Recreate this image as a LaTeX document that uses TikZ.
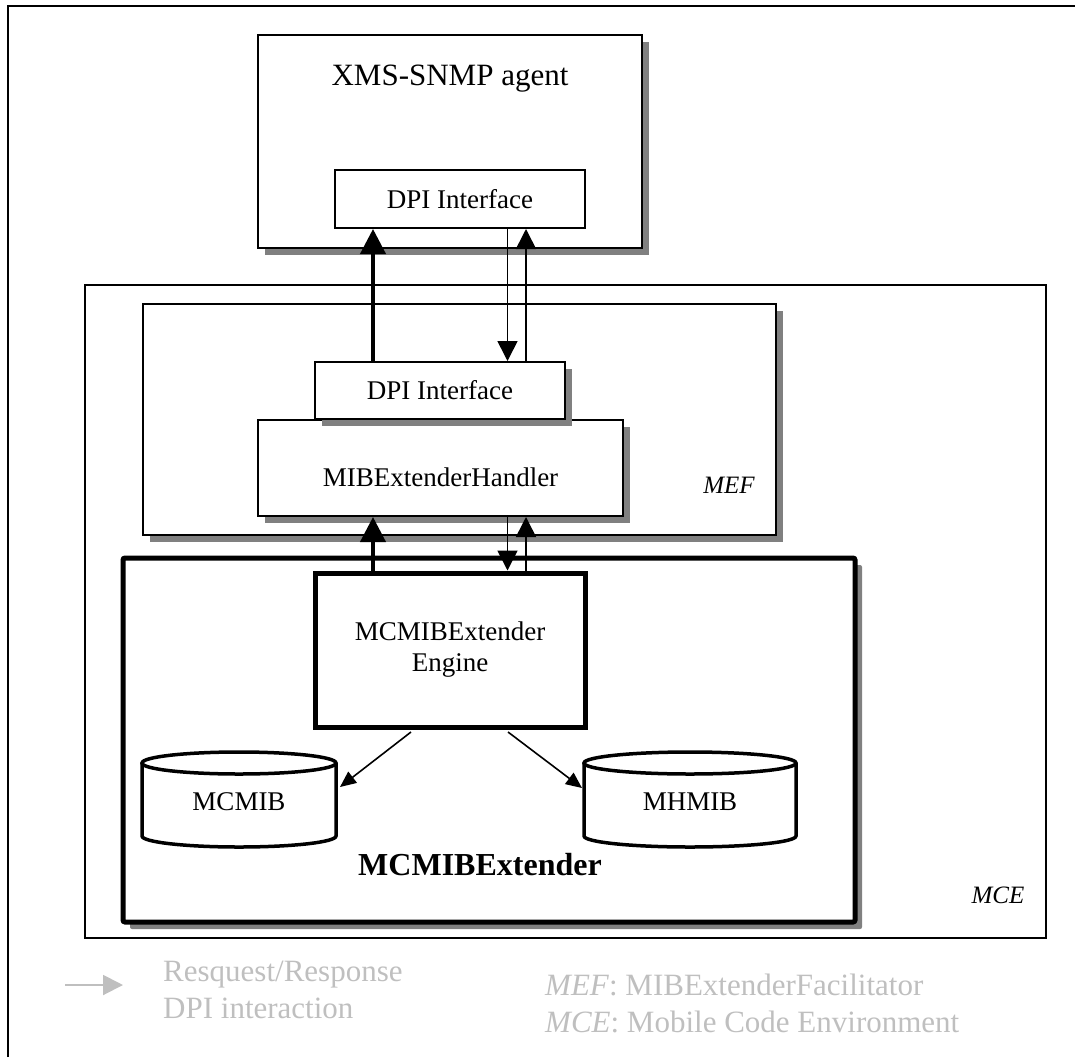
\documentclass[tikz,border=0pt]{standalone}
\usepackage{fontspec}
\setmainfont{Liberation Serif}
\usetikzlibrary{arrows.meta,shadows}
\definecolor{shgray}{HTML}{808080}
\definecolor{legendgray}{HTML}{BFBFBF}
\begin{document}
\begin{tikzpicture}[x=1pt,y=-1pt,
  box/.style={draw, line width=2pt, fill=white, inner sep=0pt},
  heavybox/.style={draw, line width=5pt, fill=white, inner sep=0pt},
  shade/.style={drop shadow={shadow xshift=7pt, shadow yshift=-7pt, fill=shgray, opacity=1}},
  txt/.style={inner sep=0pt, anchor=base, font=\fontsize{27}{31}\selectfont},
  bigtxt/.style={inner sep=0pt, anchor=base, font=\fontsize{31}{36}\selectfont},
  tag/.style={inner sep=0pt, anchor=base, font=\fontsize{25}{30}\selectfont\itshape},
  legend/.style={inner sep=0pt, anchor=base west, text=legendgray, font=\fontsize{31}{36}\selectfont},
  cyl/.style={draw, line width=3.5pt},
  thinflow/.style={draw, line width=1.6pt, -{Triangle[length=20pt,width=20pt]}},
  thickflow/.style={draw, line width=4pt, -{Triangle[length=25pt,width=25pt]}},
  dbflow/.style={draw, line width=1.6pt, -{Triangle[length=16pt,width=14pt]}}
]
\useasboundingbox (0,0) rectangle (1075,1057);

% outer frame (top and left edges)
\draw[line width=2pt] (8,1057) -- (8,6) -- (1075,6);

% SNMP agent
\node[box, shade, minimum width=384pt, minimum height=213pt] (xms) at (450,141.5) {};
\node[bigtxt] (tXms) at (450,85) {XMS-SNMP agent};
\node[box, minimum width=250pt, minimum height=58pt, font=\fontsize{27}{31}\selectfont] (dpiTop) at (460,199) {DPI Interface};

% mobile code environment
\node[box, minimum width=961pt, minimum height=653pt] (mce) at (565.5,611.5) {};
\node[tag] (tMce) at (998,903) {MCE};

% MIBExtender facilitator
\node[box, shade, minimum width=633pt, minimum height=231pt] (mef) at (459.5,419.5) {};
\node[tag] (tMef) at (729,493) {MEF};
\node[box, shade, minimum width=365pt, minimum height=96pt] (handler) at (440.5,468) {};
\node[txt] (tHandler) at (440.5,486) {MIBExtenderHandler};
\node[box, shade, minimum width=250pt, minimum height=57pt, font=\fontsize{27}{31}\selectfont] (dpiMef) at (440,390.5) {DPI Interface};

% MCMIBExtender
\node[heavybox, shade, rounded corners=2pt, minimum width=732pt, minimum height=364pt] (ext) at (489,740) {};
\node[bigtxt, font=\fontsize{32}{37}\selectfont\bfseries] (tExt) at (480,875) {MCMIBExtender};
\node[heavybox, minimum width=270pt, minimum height=154pt] (engine) at (450,650) {};
\node[txt] (tEngineA) at (450,640) {MCMIBExtender};
\node[txt] (tEngineB) at (450,671) {Engine};

% databases
\draw[cyl] (142,763) -- (142,836) arc[start angle=180,end angle=360,x radius=97pt,y radius=11pt] -- (336,763);
\draw[cyl] (239,763) ellipse [x radius=97pt, y radius=11pt];
\node[txt] (tMcmib) at (239,810) {MCMIB};
\draw[cyl] (584,763) -- (584,836) arc[start angle=180,end angle=360,x radius=106pt,y radius=11pt] -- (796,763);
\draw[cyl] (690,763) ellipse [x radius=106pt, y radius=11pt];
\node[txt] (tMhmib) at (690,810) {MHMIB};

% arrow columns
\coordinate (colA) at (373,0);
\coordinate (colB) at (507.5,0);
\coordinate (colC) at (526,0);

% DPI interaction between agent and facilitator
\draw[thickflow] (colA |- dpiMef.north) -- (colA |- dpiTop.south);
\draw[thinflow] (colB |- dpiTop.south) -- (colB |- dpiMef.north);
\draw[thinflow] (colC |- dpiMef.north) -- (colC |- dpiTop.south);

% interaction between handler and engine
\draw[thickflow] (colA |- engine.north) -- (colA |- handler.south);
\draw[thinflow] (colB |- handler.south) -- (colB |- engine.north);
\draw[thinflow] (colC |- engine.north) -- (colC |- handler.south);

% engine to databases
\coordinate (mcmibIn) at (340,787);
\coordinate (mhmibIn) at (582,788);
\draw[dbflow] ([xshift=-39pt,yshift=-2.5pt]engine.south) -- (mcmibIn);
\draw[dbflow] ([xshift=58pt,yshift=-2.5pt]engine.south) -- (mhmibIn);

% legend
\coordinate (legA) at (65,985);
\coordinate (legB) at (123,985);
\draw[line width=2pt, legendgray, -{Triangle[length=20pt,width=20pt]}] (legA) -- (legB);
\node[legend] (legReq) at (163,981) {Resquest/Response};
\node[legend] (legDpi) at (163,1018) {DPI interaction};
\node[legend] (legMef) at (545,995) {\textit{MEF}: MIBExtenderFacilitator};
\node[legend] (legMce) at (545,1032) {\textit{MCE}: Mobile Code Environment};
\end{tikzpicture}
\end{document}
